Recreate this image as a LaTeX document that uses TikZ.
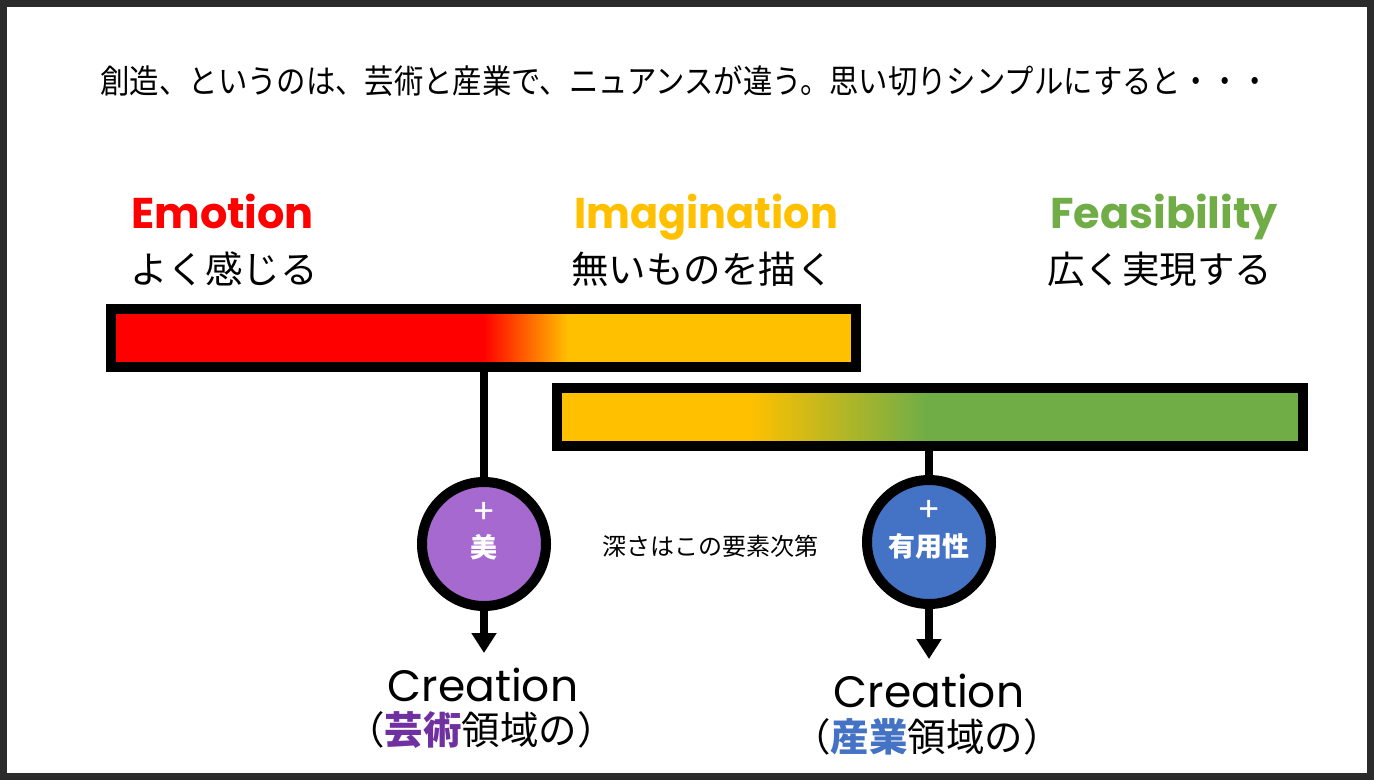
\documentclass[tikz,border=0pt]{standalone}
\usepackage{fontspec}
\usepackage{graphicx}
\setmainfont{Noto Sans CJK JP}
\newfontfamily\jp{Noto Sans CJK JP}
\newfontfamily\pop{Poppins}
\usetikzlibrary{arrows.meta}
\definecolor{cRed}{HTML}{FF0000}
\definecolor{cYel}{HTML}{FFC000}
\definecolor{cGrn}{HTML}{70AD47}
\definecolor{cPur}{HTML}{A569CF}
\definecolor{cPurT}{HTML}{7030A0}
\definecolor{cBlu}{HTML}{4472C4}
\definecolor{cFrame}{HTML}{2B2B2B}
\begin{document}
\begin{tikzpicture}[x=1pt,y=-1pt,
  barbox/.style={draw=black, line width=10pt, rectangle, inner sep=0pt},
  bubble/.style={circle, draw=black, line width=10pt, minimum size=124pt, inner sep=0pt},
  conn/.style={line width=8pt, draw=black},
  head/.style={inner sep=0pt, font=\pop\bfseries\fontsize{43}{50}\selectfont},
  sub/.style={inner sep=0pt, anchor=west, font=\jp\fontsize{37.5}{44}\selectfont},
  plus/.style={inner sep=0pt, text=white, font=\pop\fontsize{34}{38}\selectfont},
  ctext/.style={inner sep=0pt, text=white, font=\jp\bfseries\fontsize{27}{32}\selectfont},
  cre/.style={inner sep=0pt, anchor=base, text depth=0pt, font=\pop\fontsize{44}{50}\selectfont},
  dom/.style={inner sep=0pt, anchor=base, text height=29pt, font=\jp\fontsize{38.5}{44}\selectfont}
]
\useasboundingbox (0,0) rectangle (1374,780);
\fill[cFrame] (0,0) rectangle (1374,780);
\fill[white] (7,7) rectangle (1367,773);

% title
\node[inner sep=0pt, font=\jp\fontsize{33}{38}\selectfont] (title) at (685,81)
  {\scalebox{0.89}[1]{創造、というのは、芸術と産業で、ニュアンスが違う。思い切りシンプルにすると・・・}};

% headings
\node[head, text=cRed, anchor=base west] (h1) at (131,228) {Emotion};
\node[head, text=cYel, anchor=base west] (h2) at (574,228) {\scalebox{0.963}[1]{Imagination}};
\node[head, text=cGrn, anchor=base west] (h3) at (1050,228) {Feasibility};
\node[sub] (s1) at (130,269) {よく感じる};
\node[sub] (s2) at (571,269) {無いものを描く};
\node[sub] (s3) at (1047,269) {広く実現する};

% bar 1 fill
\fill[cRed] (111,309) rectangle (484,367);
\shade[left color=cRed, right color=cYel] (483,309) rectangle (568,367);
\fill[cYel] (567,309) rectangle (856,367);
\node[barbox, minimum width=745pt, minimum height=58pt] (b1) at (483.5,338) {};

% bar 2 fill
\fill[cYel] (557,388) rectangle (751,446);
\shade[left color=cYel, right color=cGrn] (750,388) rectangle (926,446);
\fill[cGrn] (925,388) rectangle (1303,446);
\node[barbox, minimum width=746pt, minimum height=58pt] (b2) at (930,417) {};

% circles
\node[bubble, fill=cPur] (c1) at (484,544) {};
\node[bubble, fill=cBlu] (c2) at (929,542) {};
\node[plus] (p1) at (484,513) {+};
\node[ctext] (m1) at (484,547) {美};
\node[plus] (p2) at (929,511) {+};
\node[ctext] (m2) at (929,546) {有用性};

% connectors
\draw[conn] (b1.south -| c1.north) -- (c1.north);
\draw[conn] (b2.south -| c2.north) -- (c2.north);
\coordinate (t1) at (484,653);
\coordinate (t2) at (929,659);
\draw[conn, -{Triangle[width=24pt,length=20pt]}] (c1.south) -- (t1);
\draw[conn, -{Triangle[width=24pt,length=20pt]}] (c2.south) -- (t2);

% note
\node[inner sep=0pt, font=\jp\fontsize{24}{28}\selectfont] (note) at (710,546) {深さはこの要素次第};

% results
\node[cre] (cr1) at (483,701) {Creation};
\node[dom] (d1) at (481,744) {（{\bfseries\color{cPurT}芸術}領域の）};
\node[cre] (cr2) at (929,707) {Creation};
\node[dom] (d2) at (927,751) {（{\bfseries\color{cBlu}産業}領域の）};
\end{tikzpicture}
\end{document}
